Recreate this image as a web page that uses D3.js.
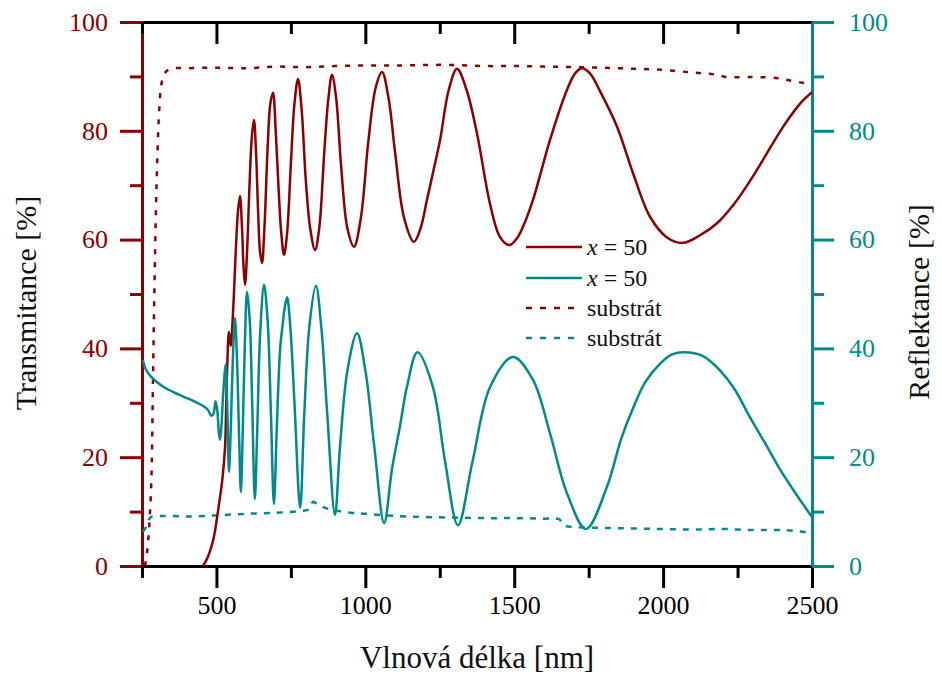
<!DOCTYPE html>
<html>
<head>
<meta charset="utf-8">
<script src="https://cdn.jsdelivr.net/npm/d3@7"></script>
<style>
  body { margin: 0; background: #fff; }
  svg { display: block; }
</style>
</head>
<body>
<div id="chart"></div>
<script>
const FONT = 'Liberation Serif';

// transmittance of the film (x = 50), left axis
const tWave = [455, 470, 490, 505, 520, 529, 533, 537, 542, 548, 556, 565, 572, 579, 586, 591, 596,
  603, 611, 619, 626, 633, 640, 646, 653, 661, 672, 681, 690, 699, 709, 718, 727, 737, 750, 762, 774,
  786, 800, 815, 831, 845, 862, 876, 888, 902, 918, 940, 962, 985, 1010, 1035, 1056, 1078, 1100, 1130,
  1163, 1185, 1207, 1230, 1251, 1280, 1308, 1340, 1375, 1419, 1452, 1483, 1510, 1529, 1563, 1620, 1677,
  1705, 1728, 1755, 1788, 1845, 1899, 1956, 2013, 2067, 2124, 2181, 2235, 2292, 2349, 2405, 2460, 2500];
const tValue = [0, 1.5, 5, 10, 16, 22, 30, 38, 43, 40.5, 47, 58, 65, 68, 62, 55, 51.7,
  58, 70, 79, 82, 76, 65, 58, 55.7, 62, 77, 85, 87, 80, 69, 61, 57.2, 61, 74, 85, 89.5,
  84, 71, 62, 58.1, 62, 76, 86, 90.3, 86, 74, 62, 58.7, 64, 78, 88, 90.8, 86, 76, 64,
  59.6, 62, 67.3, 73, 78.3, 87.5, 91.4, 87.5, 79.5, 66.5, 60.5, 59, 60.3, 62.3, 67.3, 78.3, 87.5,
  90.6, 91.5, 90.5, 87.3, 80.8, 72.2, 64.2, 60.4, 59.4, 60.8, 63.0, 66.3, 70.8, 75.9, 80.9, 85.0, 87.1];

// reflectance of the film (x = 50), right axis
const rWave = [253, 262, 280, 320, 378, 435, 470, 483, 490, 497, 503, 508, 512, 517, 523, 531, 536,
  542, 548, 555, 562, 569, 576, 582, 588, 595, 603, 612, 620, 629, 637, 647, 660, 672, 683, 693, 703,
  714, 723, 728, 737, 748, 762, 781, 795, 812, 834, 852, 872, 898, 915, 940, 972, 1000, 1030, 1063,
  1090, 1116, 1140, 1175, 1227, 1267, 1311, 1361, 1419, 1496, 1563, 1620, 1677, 1741, 1811, 1860,
  1899, 1940, 1990, 2030, 2070, 2134, 2190, 2240, 2290, 2340, 2390, 2443, 2500];
const rValue = [37.9, 36.2, 34.8, 33.0, 31.4, 30.0, 28.8, 27.6, 28.0, 30.3, 28.5, 24.5, 23.2, 26, 32, 37, 30,
  17.3, 25, 38, 45.6, 38, 24, 13.6, 24, 40, 50.4, 45, 30, 12.3, 25, 43, 51.7, 45, 28, 11.4, 26,
  40, 44.7, 47, 49.4, 44, 30, 10.7, 28, 44, 51.5, 44, 28, 9.4, 22, 36, 42.8, 36, 22, 7.9,
  18, 25.6, 33, 39.3, 32.9, 19.5, 7.5, 19.5, 32.9, 38.4, 34.2, 24.4, 13.4, 6.8, 14.5, 23.5,
  29.0, 33.8, 37.2, 38.9, 39.3, 38.6, 36.0, 32.5, 27.5, 22.8, 18.0, 13.5, 9.0];

// substrate transmittance
const stWave = [260, 268, 276, 282, 287, 292, 297, 302, 308, 315, 325, 345, 400, 500, 600, 700, 800,
  900, 1000, 1100, 1200, 1300, 1400, 1500, 1600, 1700, 1800, 1900, 2000, 2100, 2180, 2210, 2300,
  2380, 2430, 2500];
const stValue = [0, 3, 9, 17, 35, 52, 66, 76, 84, 88.5, 90.5, 91.4, 91.5, 91.6, 91.5, 91.8, 91.7,
  91.9, 92.0, 92.0, 92.1, 92.1, 91.9, 91.9, 91.8, 91.7, 91.6, 91.4, 91.2, 90.7, 90.3, 89.9, 89.9,
  89.7, 89.2, 88.5];

// substrate reflectance
const srWave = [253, 262, 270, 280, 320, 400, 500, 600, 700, 780, 810, 825, 835, 870, 950, 1000, 1100,
  1200, 1300, 1400, 1500, 1600, 1650, 1670, 1700, 1800, 1900, 2000, 2100, 2200, 2300, 2400, 2480, 2500];
const srValue = [6.3, 7.0, 8.2, 9.0, 9.2, 9.1, 9.3, 9.6, 9.8, 10.1, 10.4, 11.8, 11.5, 10.6, 9.8, 9.6, 9.2,
  9.0, 8.9, 8.8, 8.8, 8.7, 8.6, 7.4, 7.2, 7.0, 6.9, 6.8, 6.7, 6.8, 6.6, 6.6, 6.2, 6.0];

const xMajor = [500, 1000, 1500, 2000, 2500];
const xMinor = [250, 750, 1250, 1750, 2250];
const yMajor = [0, 20, 40, 60, 80, 100];
const yMinor = [10, 30, 50, 70, 90];

const legendLabels = ['x = 50', 'x = 50', 'substrát', 'substrát'];

const RED = '#8b0000';
const TEAL = '#008b8b';

const width = 942, height = 677;
const plot = { left: 142, right: 812, top: 22, bottom: 566 };

const svg = d3.select('#chart').append('svg')
  .attr('width', width)
  .attr('height', height);

const x = d3.scaleLinear().domain([250, 2500]).range([plot.left, plot.right]);
const yT = d3.scaleLinear().domain([0, 100]).range([plot.bottom, plot.top]);
const yR = d3.scaleLinear().domain([0, 100]).range([plot.bottom, plot.top]);

function styleAxis(g, color, showLabels) {
  g.attr('font-family', FONT).attr('font-size', 26);
  g.selectAll('path, line')
    .attr('stroke', color)
    .attr('stroke-width', 3);
  g.selectAll('text')
    .attr('fill', color)
    .attr('font-family', FONT)
    .attr('font-size', 26);
  if (!showLabels) g.selectAll('text').remove();
}

function drawAxis(gen, translate, color, major, minor, labels) {
  const gMinor = svg.append('g')
    .attr('transform', translate)
    .call(gen().tickValues(minor).tickSize(12).tickSizeOuter(0).tickFormat(''));
  styleAxis(gMinor, color, false);
  gMinor.select('.domain').remove();
  const gMajor = svg.append('g')
    .attr('transform', translate)
    .call(gen().tickValues(major).tickSize(22).tickSizeOuter(0).tickPadding(labels ? labels : 3).tickFormat(d3.format('d')));
  styleAxis(gMajor, color, !!labels);
  return gMajor;
}

// left axis (transmittance)
drawAxis(() => d3.axisLeft(yT), `translate(${plot.left},0)`, RED, yMajor, yMinor, 12);

// top and bottom axes
drawAxis(() => d3.axisBottom(x), `translate(0,${plot.bottom})`, '#000', xMajor, xMinor, 8);
const topMinor = svg.append('g')
  .attr('transform', `translate(0,${plot.top})`)
  .call(d3.axisTop(x).tickValues(xMinor).tickSize(-12).tickSizeOuter(0).tickFormat(''));
styleAxis(topMinor, '#000', false);
topMinor.select('.domain').remove();
const topMajor = svg.append('g')
  .attr('transform', `translate(0,${plot.top})`)
  .call(d3.axisTop(x).tickValues(xMajor).tickSize(-22).tickSizeOuter(0).tickFormat(''));
styleAxis(topMajor, '#000', false);

// right axis (reflectance)
drawAxis(() => d3.axisRight(yR), `translate(${plot.right},0)`, TEAL, yMajor, yMinor, 15);

// data lines
function series(wave, values, yScale) {
  return wave.map((w, i) => [x(w), yScale(values[i])]);
}
const line = d3.line().curve(d3.curveCatmullRom.alpha(0.5));

const lines = [
  { pts: series(stWave, stValue, yT), color: RED, dash: '5,8' },
  { pts: series(srWave, srValue, yR), color: TEAL, dash: '6,7' },
  { pts: series(tWave, tValue, yT), color: RED, dash: null },
  { pts: series(rWave, rValue, yR), color: TEAL, dash: null }
];

svg.append('g').selectAll('path')
  .data(lines)
  .enter()
  .append('path')
  .attr('d', d => line(d.pts))
  .attr('fill', 'none')
  .attr('stroke', d => d.color)
  .attr('stroke-width', 2.5)
  .attr('stroke-dasharray', d => d.dash);

// legend
const legendItems = [
  { color: RED, dash: null },
  { color: TEAL, dash: null },
  { color: RED, dash: '6,8' },
  { color: TEAL, dash: '6,8' }
];
const legendRows = [247, 278, 308, 338];

const legend = svg.append('g');
legendItems.forEach((item, i) => {
  const yy = legendRows[i];
  legend.append('line')
    .attr('x1', 526).attr('x2', 582)
    .attr('y1', yy).attr('y2', yy)
    .attr('stroke', item.color)
    .attr('stroke-width', 2.5)
    .attr('stroke-dasharray', item.dash);
  const t = legend.append('text')
    .attr('x', 587)
    .attr('y', yy + 8)
    .attr('font-family', FONT)
    .attr('font-size', 24)
    .attr('fill', '#111');
  const label = legendLabels[i];
  if (label.startsWith('x')) {
    t.append('tspan').attr('font-style', 'italic').text('x');
    t.append('tspan').text(label.slice(1));
  } else {
    t.text(label);
  }
});

// axis titles
function title(text, transform, size) {
  svg.append('text')
    .attr('transform', transform)
    .attr('text-anchor', 'middle')
    .attr('font-family', FONT)
    .attr('font-size', size)
    .attr('fill', '#111')
    .text(text);
}
title('Vlnová délka [nm]', `translate(${(plot.left + plot.right) / 2},668)`, 31);
title('Transmitance [%]', 'translate(36,303) rotate(-90)', 30);
title('Reflektance [%]', 'translate(929,302) rotate(-90)', 30);
</script>
</body>
</html>
